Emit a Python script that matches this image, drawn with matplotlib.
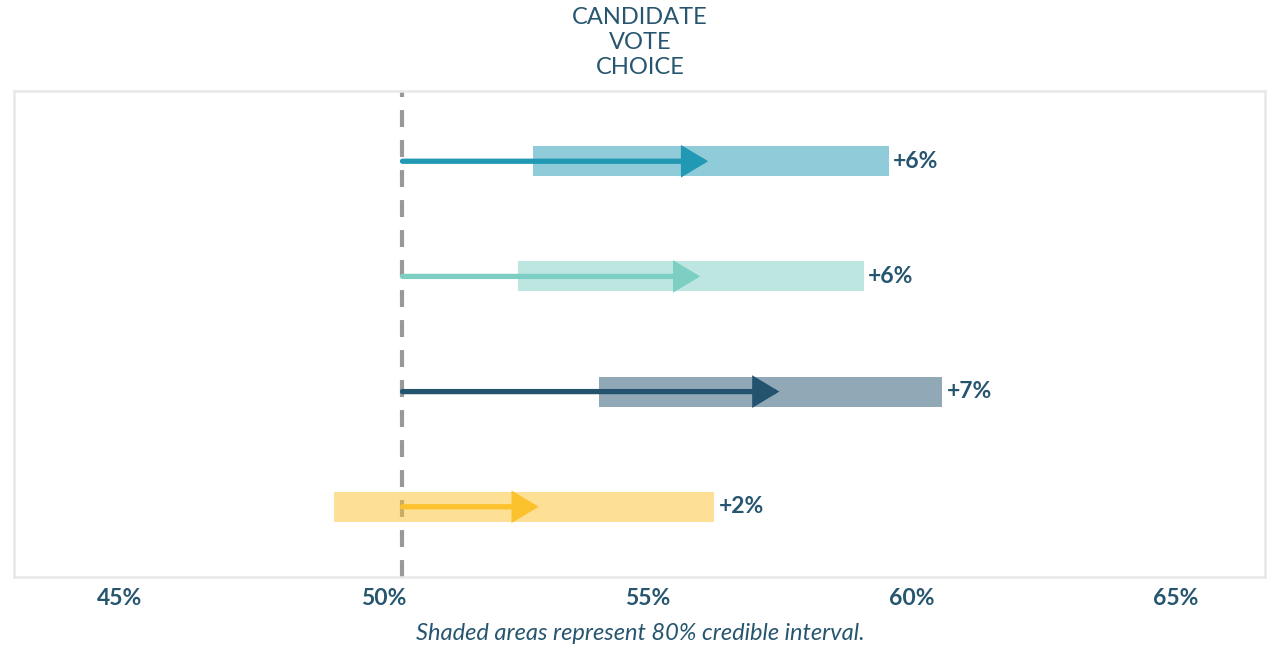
import matplotlib
matplotlib.use("Agg")
import matplotlib.pyplot as plt

# ---- data ----
rows = [3, 2, 1, 0]
baseline = 50.36
arrow_end = [56.15, 56.0, 57.5, 52.94]
ci_low = [52.84, 52.54, 54.09, 49.07]
ci_high = [59.58, 59.10, 60.59, 56.27]
labels = ["+6%", "+6%", "+7%", "+2%"]
colors = ["#2199b4", "#7dcfc4", "#24536f", "#fcc22d"]
xticks = [45, 50, 55, 60, 65]
xticklabels = ["45%", "50%", "55%", "60%", "65%"]
title = "CANDIDATE\nVOTE\nCHOICE"
caption = "Shaded areas represent 80% credible interval."

TXT = "#26566f"

plt.rcParams['font.family'] = ['Lato', 'DejaVu Sans']

fig = plt.figure(figsize=(12.7, 6.46), dpi=100)
ax = fig.add_axes([14/1270, (646-577)/646, (1265-14)/1270, (577-91)/646])
ax.set_xlim(43.0, 66.7)
ax.set_ylim(-0.61, 3.61)

for s in ax.spines.values():
    s.set_color("#e8e8e8")
    s.set_linewidth(1.8)

ax.set_yticks([])
ax.set_xticks(xticks)
ax.set_xticklabels(xticklabels, fontsize=16.5, fontweight='bold', color=TXT)
ax.tick_params(axis='x', length=0, pad=8)

# dashed baseline
lw_d = 3.0
ax.axvline(baseline, color="#999999", lw=lw_d, linestyle=(0, (12.2/lw_d, 9.4/lw_d)), zorder=1)

bar_h = 0.26
for y, lo, hi, c in zip(rows, ci_low, ci_high, colors):
    ax.barh(y, hi - lo, left=lo, height=bar_h, color=c, alpha=0.5, lw=0, zorder=2)

for y, e, c in zip(rows, arrow_end, colors):
    ax.annotate("", xy=(e, y), xytext=(baseline, y),
                arrowprops=dict(arrowstyle="-|>,head_length=0.7,head_width=0.42",
                                mutation_scale=20, lw=3.8, color=c,
                                shrinkA=0, shrinkB=0, joinstyle='miter'),
                zorder=3)

for y, hi, lab in zip(rows, ci_high, labels):
    ax.annotate(lab, xy=(hi, y), xytext=(3, 0), textcoords='offset points',
                ha='left', va='center', fontsize=16.5, fontweight='bold', color=TXT)

fig.text(640/1270, 1 - 7/646, title, ha='center', va='top', fontsize=17,
         color=TXT, linespacing=1.24)
fig.text(640/1270, 1 - 633/646, caption, ha='center', va='center', fontsize=17,
         style='italic', color=TXT)

fig.savefig("out.png", dpi=100)
